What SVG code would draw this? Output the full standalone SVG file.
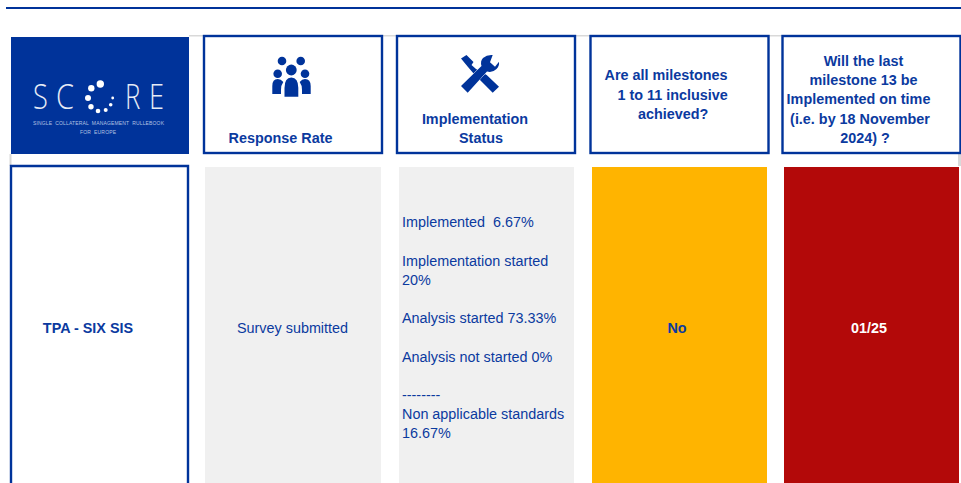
<svg xmlns="http://www.w3.org/2000/svg" width="961" height="483" viewBox="0 0 961 483">
<style>
text{font-family:"Liberation Sans",Arial,sans-serif;fill:#0b3a9f;font-size:14.38px;white-space:pre}
.b{font-weight:700}
.m{text-anchor:middle}
.h{fill:#fff;stroke:#00339a;stroke-width:2.4}
.s{fill:#00339a}
.g{fill:#f0f0f0}
.l{fill:#d9d9d9}
text.t{fill:#b4c2e2;font-size:5px;text-anchor:middle}
.c{fill:#fff}
text.lg{fill:#e6ebf6;font-size:34px;font-family:"Open Sans","Liberation Sans",sans-serif;font-weight:300}
</style>
<rect width="961" height="483" fill="#fff"/>
<rect x="6" y="7" width="955" height="2" class="s"/>
<g id="gridlines">
<rect x="189" y="35" width="772" height="1.5" class="l"/>
<rect x="9.500" y="154" width="2" height="12" class="l"/>
<rect x="958" y="154" width="3" height="12" class="l"/>
</g>
<g id="logo">
<rect x="11" y="37" width="178" height="117" class="s"/>
<text transform="translate(33 109) scale(.8 1)" class="lg">S</text>
<text transform="translate(56 109) scale(.85 1)" class="lg">C</text>
<text transform="translate(125 109) scale(.76 1)" class="lg">R</text>
<text transform="translate(149 109) scale(.8 1)" class="lg">E</text>
<circle cx="100.300" cy="84" r="3.700" class="c"/>
<circle cx="91.300" cy="88.300" r="3.200" class="c"/>
<circle cx="88" cy="98" r="3" class="c"/>
<circle cx="91" cy="106.700" r="2.700" class="c"/>
<circle cx="98" cy="111" r="2.300" class="c"/>
<circle cx="105.700" cy="110" r="2" class="c"/>
<circle cx="110.700" cy="104.700" r="1.800" class="c"/>
<circle cx="112.700" cy="98" r="1.400" class="c"/>
<text x="98.500" y="125" class="t" textLength="131">SINGLE  COLLATERAL  MANAGEMENT  RULLEBOOK</text>
<text x="98" y="133.500" class="t" textLength="36">FOR  EUROPE</text>
</g>
<g id="head-response">
<rect x="204" y="36" width="178" height="117" class="h"/>
<g class="s">
<circle cx="282" cy="61" r="4.300"/><circle cx="300.700" cy="61" r="4.300"/>
<circle cx="277.700" cy="73.700" r="4.300"/><circle cx="291.300" cy="70" r="5.400"/><circle cx="305" cy="73.700" r="4.300"/>
<path d="M272.300 94V86Q272.300 79 277.700 79Q281 79 283.300 82Q281 85 281 90V94Z"/>
<path d="M284.500 96.700V88Q284.500 77.500 291.300 77.500Q298.300 77.500 298.300 88V96.700Z"/>
<path d="M310.700 94V86Q310.700 79 305 79Q302 79 299.700 82Q302 85 302 90V94Z"/>
</g>
<text x="280.500" y="143" class="b m">Response Rate</text>
</g>
<g id="head-implementation">
<rect x="397" y="36" width="178" height="117" class="h"/>
<path class="s" d="M461 58.500L466.500 55L473.500 62L471.500 65L476 69L486.700 75L499 86.700L492.700 92.700L480 80L474 74L468 67Z"/>
<path class="s" stroke="#fff" stroke-width="1" paint-order="stroke" d="M461 86L481.500 66Q480 61 483 58Q487 54.500 492.700 55L490 62.300L495 66.700L499 61.700Q499.500 66 496.500 69Q492.500 73 487 71.500L467.700 92.700Z"/>
<text x="475" y="124" class="b m">Implementation</text>
<text x="481" y="143" class="b m">Status</text>
</g>
<g id="head-milestones">
<rect x="590.500" y="36" width="178" height="117" class="h"/>
<text x="604.500" y="80" class="b">Are all milestones</text>
<text x="617.500" y="100" class="b">1 to 11 inclusive</text>
<text x="638" y="119" class="b">achieved?</text>
</g>
<g id="head-last">
<rect x="782.500" y="36" width="178" height="117" class="h"/>
<text x="863.500" y="66" class="b m">Will the last</text>
<text x="863.500" y="85" class="b m">milestone 13 be</text>
<text x="858.500" y="104" class="b m">Implemented on time</text>
<text x="860" y="124" class="b m">(i.e. by 18 November</text>
<text x="865" y="143" class="b m">2024) ?</text>
</g>
<g id="row-name">
<path d="M11 484V166H188V484" class="h"/>
<text x="88" y="333" class="b m">TPA - SIX SIS</text>
</g>
<g id="cell-response">
<rect x="205" y="167" width="176" height="316" class="g"/>
<text x="292.500" y="333" class="m">Survey submitted</text>
</g>
<g id="cell-status">
<rect x="399" y="167" width="175" height="316" class="g"/>
<text x="402" y="227">Implemented  6.67%</text>
<text x="402" y="266">Implementation started</text>
<text x="402" y="285">20%</text>
<text x="402" y="323">Analysis started 73.33%</text>
<text x="402" y="362">Analysis not started 0%</text>
<text x="402" y="400">--------</text>
<text x="402" y="419">Non applicable standards</text>
<text x="402" y="438">16.67%</text>
</g>
<g id="cell-milestones">
<rect x="592" y="167" width="175" height="316" fill="#ffb400"/>
<text x="677" y="333" class="b m">No</text>
</g>
<g id="cell-last">
<rect x="784" y="167" width="175" height="316" fill="#b30909"/>
<text x="869" y="333" class="b m" style="fill:#fff">01/25</text>
</g>
<g id="connectors"></g>
</svg>
